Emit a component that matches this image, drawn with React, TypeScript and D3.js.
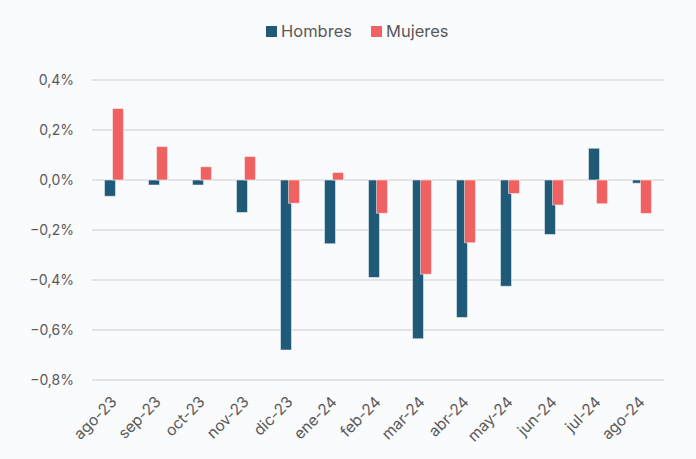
import React, { useEffect, useRef } from 'react'
import * as d3 from 'd3'

const categories = ['ago-23', 'sep-23', 'oct-23', 'nov-23', 'dic-23', 'ene-24', 'feb-24', 'mar-24', 'abr-24', 'may-24', 'jun-24', 'jul-24', 'ago-24']
const hombres = [-0.065, -0.02, -0.02, -0.13, -0.68, -0.255, -0.39, -0.635, -0.55, -0.425, -0.218, 0.127, -0.013]
const mujeres = [0.286, 0.134, 0.053, 0.094, -0.093, 0.03, -0.133, -0.377, -0.251, -0.054, -0.1, -0.095, -0.134]
const yTicks = [0.4, 0.2, 0, -0.2, -0.4, -0.6, -0.8]
const seriesNames = ['Hombres', 'Mujeres']
const colors = ['#1f5a78', '#f06262']

const W = 696
const H = 459
const FONT = 'Inter, "Noto Sans", sans-serif'

const App: React.FC = () => {
  const ref = useRef<SVGSVGElement>(null)

  useEffect(() => {
    if (!ref.current) return
    const svg = d3.select(ref.current)
    svg.selectAll('*').remove()

    const margin = { top: 80, right: 32, bottom: 79, left: 92 }
    const innerW = W - margin.left - margin.right
    const innerH = H - margin.top - margin.bottom

    svg.append('rect').attr('width', W).attr('height', H).attr('fill', '#f9fbfd')

    const x = d3.scaleBand().domain(categories).range([0, innerW]).padding(0)
    const y = d3.scaleLinear().domain([0.4, -0.8]).range([0, innerH])

    const g = svg.append('g').attr('transform', `translate(${margin.left},${margin.top})`)

    // gridlines
    g.selectAll('.grid')
      .data(yTicks)
      .enter().append('line')
      .attr('x1', 0).attr('x2', innerW)
      .attr('y1', d => y(d)).attr('y2', d => y(d))
      .attr('stroke', '#dcdcdc')
      .attr('stroke-width', 1.5)

    // y labels
    g.selectAll('.ylab')
      .data(yTicks)
      .enter().append('text')
      .attr('x', -18)
      .attr('y', d => y(d))
      .attr('dy', '0.35em')
      .attr('text-anchor', 'end')
      .attr('font-family', FONT)
      .attr('font-size', 14)
      .attr('fill', '#595959')
      .text(d => d3.format('.1f')(d).replace('.', ',').replace('-', '\u2212') + '%')

    const bw = 11
    const offsets = [-4, 4]
    const series = [hombres, mujeres]
    series.forEach((vals, si) => {
      g.selectAll(`.bar${si}`)
        .data(vals)
        .enter().append('rect')
        .attr('x', (_, i) => (x(categories[i]) as number) + x.bandwidth() / 2 + offsets[si] - bw / 2)
        .attr('y', d => Math.min(y(d), y(0)))
        .attr('width', bw)
        .attr('height', d => Math.abs(y(d) - y(0)))
        .attr('fill', colors[si])
        .attr('stroke', 'rgba(255,255,255,0.5)')
        .attr('stroke-width', 1)
    })

    // x labels
    g.selectAll('.xlab')
      .data(categories)
      .enter().append('text')
      .attr('transform', d => `translate(${(x(d) as number) + x.bandwidth() / 2},${innerH + 19}) rotate(-45)`)
      .attr('text-anchor', 'end')
      .attr('dy', '0.35em')
      .attr('font-family', FONT)
      .attr('font-size', 15.5)
      .attr('fill', '#595959')
      .text(d => d)

    // legend
    const legend = svg.append('g').attr('transform', 'translate(266,26)')
    const items = [{ x: 0 }, { x: 105 }]
    seriesNames.forEach((name, i) => {
      const it = legend.append('g').attr('transform', `translate(${items[i].x},0)`)
      it.append('rect').attr('width', 11).attr('height', 11).attr('fill', colors[i])
      it.append('text')
        .attr('x', 15)
        .attr('y', 5.5)
        .attr('dy', '0.35em')
        .attr('font-family', FONT)
        .attr('font-size', 16.5)
        .attr('fill', '#595959')
        .text(name)
    })
  }, [])

  return <svg ref={ref} width={W} height={H} style={{ position: 'fixed', top: 0, left: 0 }}></svg>
}

export default App
